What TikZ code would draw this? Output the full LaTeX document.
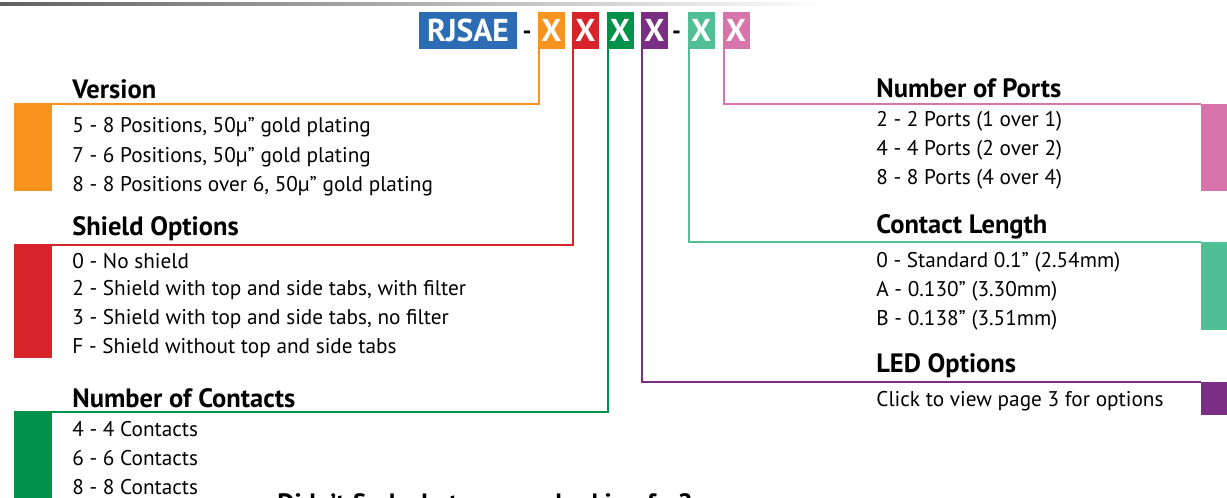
\documentclass[tikz,border=0pt]{standalone}
\usepackage{fontspec}
\setmainfont{PT Sans}
\usepackage{tikz}

\definecolor{colBrand}{HTML}{2B6CB4}
\definecolor{colVersion}{HTML}{F7941E}
\definecolor{colShield}{HTML}{D7232A}
\definecolor{colContacts}{HTML}{00924A}
\definecolor{colLed}{HTML}{7A2E84}
\definecolor{colLength}{HTML}{50BF96}
\definecolor{colPorts}{HTML}{D873AC}

\begin{document}
\begin{tikzpicture}[
    x=0.02cm, y=-0.02cm,
    % --- CODE BOXES: white bold letter on solid colour ---
    codeBox/.style={rectangle, inner sep=0pt, minimum width=0.54cm, minimum height=0.74cm, text=white, font=\fontsize{18}{20}\selectfont\bfseries},
    dashText/.style={anchor=base, inner sep=0pt, font=\fontsize{14}{16}\selectfont\bfseries},
    % --- SIDE BARS ---
    barBlock/.style={rectangle, inner sep=0pt, anchor=north west, minimum width=0.76cm},
    % --- LINES: 2px wide ---
    linkLine/.style={line width=1.1pt},
    % --- TEXTS ---
    headText/.style={anchor=west, inner sep=0pt, font=\fontsize{15.1}{17}\selectfont\bfseries},
    itemText/.style={anchor=west, inner sep=0pt, font=\fontsize{12.1}{14}\selectfont}
]

    % --- FRAME ---
    \useasboundingbox (0,0) rectangle (1227,497);
    \clip (0,0) rectangle (1227,497);
    \shade[left color=black!62, right color=white] (0,2) rectangle (830,5);

    % --- PART NUMBER ---
    \node[codeBox, fill=colBrand, minimum width=1.96cm] (brand) at (468,30.5) {RJSAE};
    \node[dashText] (dashA) at (527,39) {-};
    \node[codeBox, fill=colVersion]  (xVer)  at (551.5,30.5) {X};
    \node[codeBox, fill=colShield]   (xShd)  at (585.5,30.5) {X};
    \node[codeBox, fill=colContacts] (xCon)  at (620,30.5)   {X};
    \node[codeBox, fill=colLed]      (xLed)  at (654.5,30.5) {X};
    \node[dashText] (dashB) at (676.5,39) {-};
    \node[codeBox, fill=colLength]   (xLen)  at (701,30.5)   {X};
    \node[codeBox, fill=colPorts]    (xPort) at (736,30.5)   {X};

    % --- SIDE BARS (left) ---
    \node[barBlock, fill=colVersion,  minimum height=1.74cm] (barVer) at (14,104) {};
    \node[barBlock, fill=colShield,   minimum height=2.26cm] (barShd) at (14,245) {};
    \node[barBlock, fill=colContacts, minimum height=1.90cm] (barCon) at (14,412) {};

    % --- SIDE BARS (right) ---
    \node[barBlock, fill=colPorts,  minimum height=1.74cm] (barPort) at (1201,104) {};
    \node[barBlock, fill=colLength, minimum height=1.76cm] (barLen)  at (1201,242) {};
    \node[barBlock, fill=colLed,    minimum height=0.66cm] (barLed)  at (1201,382) {};

    % --- CONNECTORS ---
    \draw[linkLine, colVersion]  ([xshift=1pt]xVer.south west)  |- (barVer.north west);
    \draw[linkLine, colShield]   ([xshift=1pt]xShd.south west)  |- (barShd.north west);
    \draw[linkLine, colContacts] ([xshift=1pt]xCon.south west)  |- (barCon.north west);
    \draw[linkLine, colLed]      ([xshift=1pt]xLed.south west)  |- (barLed.north west);
    \draw[linkLine, colLength]   ([xshift=1pt]xLen.south west)  |- (barLen.north west);
    \draw[linkLine, colPorts]    ([xshift=1pt]xPort.south west) |- (barPort.north west);

    % --- VERSION ---
    \node[headText] (hVer) at (72,89) {Version};
    \node[itemText] (ver1) at (72,127) {5 - 8 Positions, 50µ” gold plating};
    \node[itemText] (ver2) at (72,157) {7 - 6 Positions, 50µ” gold plating};
    \node[itemText] (ver3) at (72,186) {8 - 8 Positions over 6, 50µ” gold plating};

    % --- SHIELD OPTIONS ---
    \node[headText] (hShd) at (72,229) {Shield Options};
    \node[itemText] (shd1) at (72,261) {0 - No shield};
    \node[itemText] (shd2) at (72,290) {2 - Shield with top and side tabs, with filter};
    \node[itemText] (shd3) at (72,319) {3 - Shield with top and side tabs, no filter};
    \node[itemText] (shd4) at (72,348) {F - Shield without top and side tabs};

    % --- NUMBER OF CONTACTS ---
    \node[headText] (hCon) at (72,398) {Number of Contacts};
    \node[itemText] (con1) at (72,429) {4 - 4 Contacts};
    \node[itemText] (con2) at (72,458) {6 - 6 Contacts};
    \node[itemText] (con3) at (72,487) {8 - 8 Contacts};
    \node[headText, anchor=base west] (help) at (277,512) {Didn’t find what you are looking for?};

    % --- NUMBER OF PORTS ---
    \node[headText] (hPort) at (876,88) {Number of Ports};
    \node[itemText] (port1) at (876,121) {2 - 2 Ports (1 over 1)};
    \node[itemText] (port2) at (876,150) {4 - 4 Ports (2 over 2)};
    \node[itemText] (port3) at (876,179) {8 - 8 Ports (4 over 4)};

    % --- CONTACT LENGTH ---
    \node[headText] (hLen) at (876,227) {Contact Length};
    \node[itemText] (len1) at (876,262) {0 - Standard 0.1” (2.54mm)};
    \node[itemText] (len2) at (876,291) {A - 0.130” (3.30mm)};
    \node[itemText] (len3) at (876,320) {B - 0.138” (3.51mm)};

    % --- LED OPTIONS ---
    \node[headText] (hLed) at (876,366) {LED Options};
    \node[itemText] (led1) at (876,401) {Click to view page 3 for options};

\end{tikzpicture}
\end{document}
